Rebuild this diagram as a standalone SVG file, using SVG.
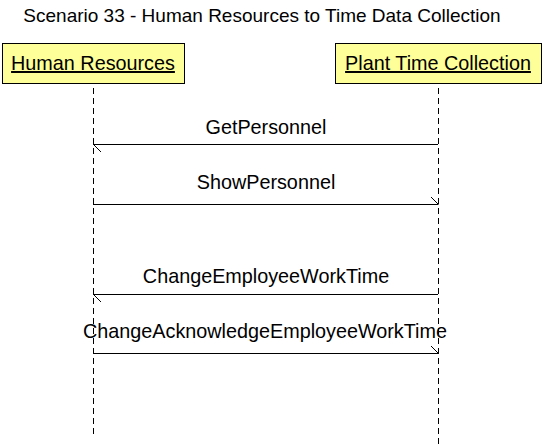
<svg xmlns="http://www.w3.org/2000/svg" width="544" height="446" viewBox="0 0 544 446">
<style>
text{font-family:"Liberation Sans",Arial,sans-serif;font-size:19.8px;fill:#000;text-anchor:middle}
.title{font-size:19px}
.box{fill:#ffff99;stroke:#000;stroke-width:1}
.life{stroke:#000;stroke-width:1;stroke-dasharray:6 4;fill:none}
.msg{stroke:#000;stroke-width:1;fill:none}
</style>
<rect width="544" height="446" fill="#fff"/>
<text class="title" x="262" y="22">Scenario 33 - Human Resources to Time Data Collection</text>
<g id="hr">
<rect class="box" x="2.5" y="43.5" width="182" height="40"/>
<text x="93" y="70" text-decoration="underline">Human Resources</text>
<line class="life" x1="93.5" y1="88" x2="93.5" y2="434"/>
</g>
<g id="ptc">
<rect class="box" x="335.5" y="43.5" width="206" height="40"/>
<text x="438" y="70" text-decoration="underline">Plant Time Collection</text>
<line class="life" x1="438.5" y1="88" x2="438.5" y2="446"/>
</g>
<g id="connectors">
<line class="msg" x1="438" y1="144.5" x2="93" y2="144.5"/>
<line class="msg" x1="93.5" y1="144.5" x2="101" y2="152"/>
<text x="266" y="134">GetPersonnel</text>
<line class="msg" x1="93" y1="204.5" x2="438" y2="204.5"/>
<line class="msg" x1="438.5" y1="204.5" x2="431" y2="197"/>
<text x="266" y="189">ShowPersonnel</text>
<line class="msg" x1="438" y1="294.5" x2="93" y2="294.5"/>
<line class="msg" x1="93.5" y1="294.5" x2="101" y2="302"/>
<text x="266" y="283">ChangeEmployeeWorkTime</text>
<line class="msg" x1="93" y1="353.5" x2="438" y2="353.5"/>
<line class="msg" x1="438.5" y1="353.5" x2="431" y2="346"/>
<text x="265" y="338">ChangeAcknowledgeEmployeeWorkTime</text>
</g>
</svg>
